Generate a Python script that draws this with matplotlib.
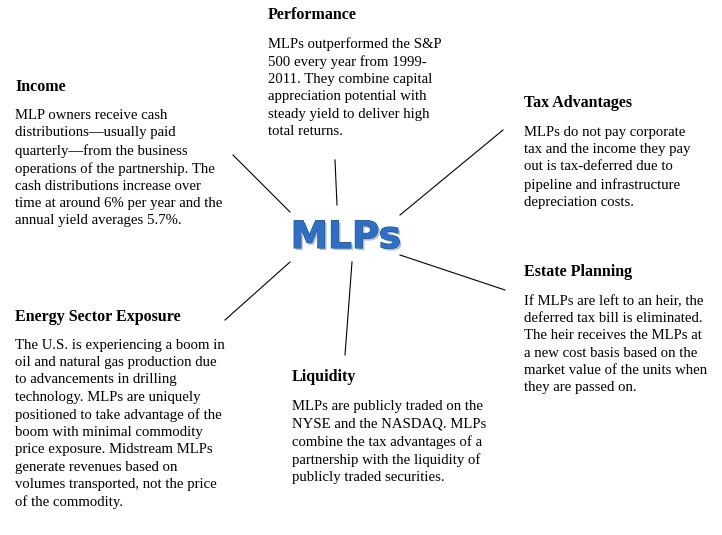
import matplotlib
matplotlib.use("Agg")
import matplotlib.pyplot as plt
import matplotlib.patheffects as pe

titles = ["Performance", "Income", "Tax Advantages", "Estate Planning",
          "Energy Sector Exposure", "Liquidity"]
bodies = [
    "MLPs outperformed the S&P\n500 every year from 1999-\n2011. They combine capital\nappreciation potential with\nsteady yield to deliver high\ntotal returns.",
    "MLP owners receive cash\ndistributions\u2014usually paid\nquarterly\u2014from the business\noperations of the partnership. The\ncash distributions increase over\ntime at around 6% per year and the\nannual yield averages 5.7%.",
    "MLPs do not pay corporate\ntax and the income they pay\nout is tax-deferred due to\npipeline and infrastructure\ndepreciation costs.",
    "If MLPs are left to an heir, the\ndeferred tax bill is eliminated.\nThe heir receives the MLPs at\na new cost basis based on the\nmarket value of the units when\nthey are passed on.",
    "The U.S. is experiencing a boom in\noil and natural gas production due\nto advancements in drilling\ntechnology. MLPs are uniquely\npositioned to take advantage of the\nboom with minimal commodity\nprice exposure. Midstream MLPs\ngenerate revenues based on\nvolumes transported, not the price\nof the commodity.",
    "MLPs are publicly traded on the\nNYSE and the NASDAQ. MLPs\ncombine the tax advantages of a\npartnership with the liquidity of\npublicly traded securities.",
]
center_label = "MLPs"

title_pos = [(268, 15), (15, 87), (524, 103), (524, 272), (15, 317), (292, 377)]
body_pos = [(268, 37), (15, 109), (524, 126), (524, 295), (15, 339), (292, 400)]
spokes = [((335, 160), (337, 205)), ((233, 155), (290, 212)), ((503, 130), (400, 215)),
          ((505, 290), (400, 255)), ((225, 320), (290, 262)), ((352, 262), (345, 355))]

fig = plt.figure(figsize=(7.22, 5.35), dpi=100)
ax = fig.add_axes([0, 0, 1, 1])
ax.set_xlim(0, 722)
ax.set_ylim(535, 0)
ax.axis("off")

serif = "Liberation Serif"
for t, p in zip(titles, title_pos):
    ax.text(p[0], p[1], t, fontsize=11.5, fontweight="bold", family=serif,
            va="center", ha="left", color="black")
for b, p in zip(bodies, body_pos):
    ax.text(p[0], p[1], b, fontsize=10.6, family=serif, va="top", ha="left",
            linespacing=1.42, color="black")
for (a, c) in spokes:
    ax.plot([a[0], c[0]], [a[1], c[1]], color="black", lw=0.8)

ax.text(346, 238, center_label, fontsize=27, fontweight="bold", family="DejaVu Sans",
        ha="center", va="center", color="#2e6fc4",
        path_effects=[pe.withSimplePatchShadow(offset=(1.5, -1.5), shadow_rgbFace="#9aa8bb", alpha=0.7),
                      pe.Stroke(linewidth=0.8, foreground="#1d4f9a"), pe.Normal()])

fig.savefig("out.png", dpi=100, facecolor="white")
